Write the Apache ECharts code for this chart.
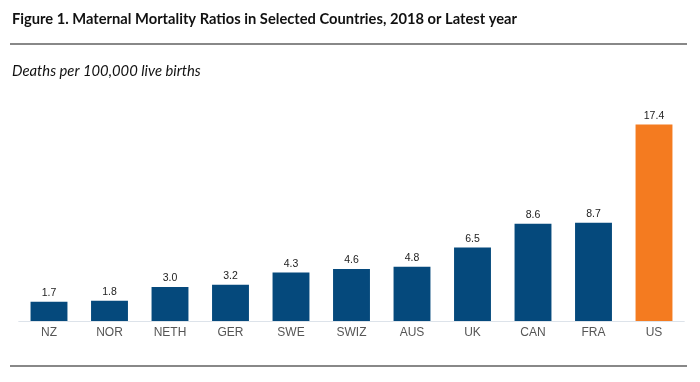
<!DOCTYPE html>
<html>
<head>
<meta charset="utf-8">
<script src="https://cdn.jsdelivr.net/npm/echarts@6/dist/echarts.min.js"></script>
<style>html,body{margin:0;padding:0;background:#fff;}#c{width:700px;height:382px;}</style>
</head>
<body>
<div id="c"></div>
<script>
const categories = ['NZ','NOR','NETH','GER','SWE','SWIZ','AUS','UK','CAN','FRA','US'];
const values = [1.7,1.8,3.0,3.2,4.3,4.6,4.8,6.5,8.6,8.7,17.4];
const highlight = 'US';
const titleText = 'Figure 1. Maternal Mortality Ratios in Selected Countries, 2018 or Latest year';
const subtitleText = 'Deaths per 100,000 live births';

const chart = echarts.init(document.getElementById('c'));
chart.setOption({
  animation: false,
  title: [{
    text: titleText, left: 7, top: 7,
    textStyle: {fontFamily: 'Lato', fontWeight: 'bold', fontSize: 14.7, color: '#111'}
  }, {
    text: subtitleText, left: 7, top: 59,
    textStyle: {fontFamily: 'Lato', fontStyle: 'italic', fontWeight: 'normal', fontSize: 14.8, color: '#111'}
  }],
  graphic: [
    {type: 'line', shape: {x1: 10, y1: 44, x2: 687, y2: 44}, style: {stroke: '#888', lineWidth: 2}},
    {type: 'line', shape: {x1: 10, y1: 366, x2: 687, y2: 366}, style: {stroke: '#888', lineWidth: 2}}
  ],
  grid: {left: 18.75, right: 15.75, top: 95, bottom: 61, containLabel: false},
  xAxis: {
    type: 'category', data: categories,
    axisLine: {lineStyle: {color: '#dde3ea', width: 1}},
    axisTick: {show: false},
    axisLabel: {margin: 6, color: '#555', fontFamily: 'Liberation Sans', fontSize: 12}
  },
  yAxis: {type: 'value', min: 0, max: 20, show: false, splitLine: {show: false}},
  series: [{
    type: 'bar', barCategoryGap: '39%',
    data: values.map((v, i) => ({value: v, itemStyle: {color: categories[i] === highlight ? '#f47b20' : '#05497c'}})),
    label: {show: true, position: 'top', distance: 3, color: '#222', fontFamily: 'Liberation Sans', fontSize: 10.5,
      formatter: p => p.value.toFixed(1)}
  }]
});
</script>
</body>
</html>
